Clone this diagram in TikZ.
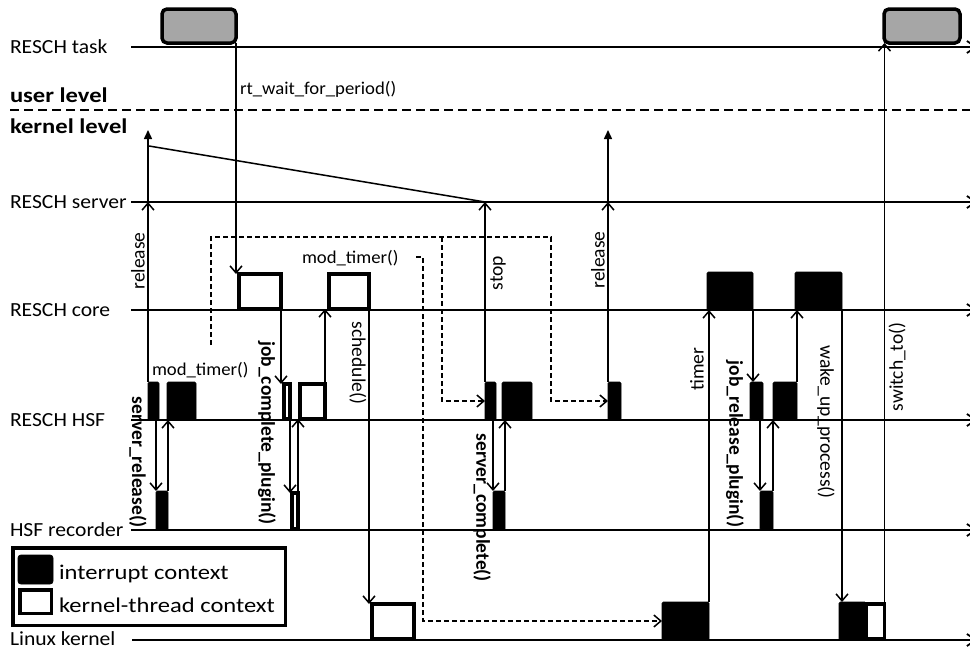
\documentclass[tikz,border=0pt]{standalone}
\usepackage{fontspec}
\setmainfont{Carlito}
\newfontfamily\tlfam{Carlito}[FakeStretch=1.08]
\newfontfamily\lbfam{Carlito}[FakeStretch=1.04]
\newfontfamily\hdfam{Carlito}[FakeStretch=1.17]
\newfontfamily\rtfam{Carlito}
\usetikzlibrary{arrows.meta}
\tikzset{
  tlfont/.style={font=\tlfam\fontsize{20}{24}\selectfont, inner sep=0, outer sep=0},
  lbl/.style={font=\lbfam\fontsize{18}{22}\selectfont, inner sep=0, outer sep=0},
  hd/.style={font=\hdfam\bfseries\fontsize{21}{25}\selectfont, inner sep=0, outer sep=0},
  leglbl/.style={font=\hdfam\fontsize{21}{25}\selectfont, inner sep=0, outer sep=0},
  rlbl/.style={font=\rtfam\fontsize{19.5}{23}\selectfont, inner sep=0, outer sep=0},
  rblbl/.style={font=\rtfam\bfseries\fontsize{19.5}{23}\selectfont, inner sep=0, outer sep=0},
  tline/.style={line width=1.8pt, -{Straight Barb[length=9pt,width=12pt]}},
  udash/.style={line width=2pt, dash pattern=on 9pt off 5pt},
  arr/.style={line width=1.5pt, -{Straight Barb[length=7pt,width=12pt]}},
  farr/.style={line width=1.5pt, -{Triangle[length=9pt,width=8pt]}},
  darr/.style={line width=1.5pt, dash pattern=on 5pt off 3pt, -{Straight Barb[length=7pt,width=12pt]}},
  plain/.style={line width=1.5pt},
  wbox/.style={draw, line width=3.5pt, fill=white, inner sep=0, outer sep=0, anchor=north west},
  bbox/.style={draw, fill=black, line width=0.8pt, rounded corners=1.5pt, inner sep=0, outer sep=0, anchor=north west},
  tbox/.style={draw, line width=3.5pt, fill=black!35, rounded corners=5pt, inner sep=0, outer sep=0, anchor=north west},
}
\begin{document}
\begin{tikzpicture}[x=1pt,y=-1pt]
\useasboundingbox (0,0) rectangle (970,653);
\clip (0,0) rectangle (970,653);

% timelines
\coordinate (Ltask) at (131,47);
\coordinate (Lsrv) at (131,202);
\coordinate (Lcore) at (131,310);
\coordinate (Lhsf) at (131,420);
\coordinate (Lrec) at (131,530);
\coordinate (Llnx) at (132,640);
\coordinate (Rend) at (977.5,0);
\coordinate (Uend) at (970,0);
\coordinate (Udash) at (10,110);
\coordinate (Topy) at (0,130);
\foreach \l in {Ltask,Lsrv,Lcore,Lhsf,Lrec,Llnx} \draw[tline] (\l) -- (\l -| Rend);
\draw[udash] (Udash) -- (Udash -| Uend);

% timeline labels
\node[tlfont, anchor=base west] (nTask) at (10,53.5) {RESCH task};
\node[tlfont, anchor=base west] (nSrv) at (10,208.5) {RESCH server};
\node[tlfont, anchor=base west] (nCore) at (10,316.5) {RESCH core};
\node[tlfont, anchor=base west] (nHsf) at (10,426.5) {RESCH HSF};
\node[tlfont, anchor=base west] (nRec) at (10,536.5) {HSF recorder};
\node[tlfont, anchor=base west] (nLnx) at (10,645.5) {Linux kernel};
\node[hd, anchor=base west] (nUser) at (10,102) {user level};
\node[hd, anchor=base west] (nKern) at (10,133) {kernel level};

% task boxes
\node[tbox, minimum width=74pt, minimum height=34pt] (t1) at (162,9) {};
\node[tbox, minimum width=76pt, minimum height=34pt] (t2) at (884,9) {};

% RESCH core boxes
\node[wbox, minimum width=42pt, minimum height=35pt] (c1) at (239,274) {};
\node[wbox, minimum width=40pt, minimum height=35pt] (c2) at (329,274) {};
\node[bbox, minimum width=46pt, minimum height=38pt] (c3) at (707,272) {};
\node[bbox, minimum width=47pt, minimum height=38pt] (c4) at (795,272) {};

% RESCH HSF boxes
\node[bbox, minimum width=11pt, minimum height=38pt] (h1) at (148,382) {};
\node[bbox, minimum width=29pt, minimum height=38pt] (h2) at (167,382) {};
\node[wbox, minimum width=6pt, minimum height=35pt] (h3) at (284,384) {};
\node[wbox, minimum width=25pt, minimum height=35pt] (h4) at (300,384) {};
\node[bbox, minimum width=11pt, minimum height=38pt] (h5) at (485,382) {};
\node[bbox, minimum width=30pt, minimum height=38pt] (h6) at (502,382) {};
\node[bbox, minimum width=13pt, minimum height=38pt] (h7) at (608,382) {};
\node[bbox, minimum width=13pt, minimum height=38pt] (h8) at (750,382) {};
\node[bbox, minimum width=24pt, minimum height=38pt] (h9) at (773,382) {};

% HSF recorder boxes
\node[bbox, minimum width=12pt, minimum height=39pt] (r1) at (156,491) {};
\node[wbox, minimum width=6pt, minimum height=36pt] (r2) at (292,493) {};
\node[bbox, minimum width=12pt, minimum height=39pt] (r3) at (493,491) {};
\node[bbox, minimum width=13pt, minimum height=39pt] (r4) at (760,491) {};

% Linux kernel boxes
\node[wbox, minimum width=42pt, minimum height=35pt] (k1) at (372,604) {};
\node[bbox, minimum width=47pt, minimum height=38pt] (k2) at (662,602) {};
\node[bbox, minimum width=27pt, minimum height=38pt] (k3b) at (839,602) {};
\node[wbox, minimum width=18pt, minimum height=35pt] (k3w) at (866.5,604) {};

% release / stop arrows to the server
\draw[arr] (h1.north west) -- (h1.north west |- Lsrv);
\draw[farr] (h1.north west |- Lsrv) -- (h1.north west |- Topy);
\draw[arr] (h5.north west) -- (h5.north west |- Lsrv);
\draw[arr] (h7.north west) -- (h7.north west |- Lsrv);
\draw[farr] (h7.north west |- Lsrv) -- (h7.north west |- Topy);
\coordinate (S1) at (149,146);
\draw[plain] (S1) -- (h5.north west |- Lsrv);

% task <-> core
\draw[arr] (t1.south east) -- (t1.south east |- c1.north);
\draw[arr] (k3w.north east) -- (k3w.north east |- t2.south);

% core <-> HSF <-> kernel
\draw[arr] (c1.south east) -- (c1.south east |- h3.north);
\draw[arr] (h4.north east) -- (h4.north east |- c2.south);
\draw[arr] (c2.south east) -- (c2.south east |- k1.north);
\draw[arr] (k2.north east) -- (k2.north east |- c3.south);
\draw[arr] (c3.south east) -- (c3.south east |- h8.north);
\draw[arr] (h9.north east) -- (h9.north east |- c4.south);
\draw[arr] (c4.south east) -- (c4.south east |- k3b.north);

% HSF <-> recorder
\draw[arr] (r1.north west |- h1.south) -- (r1.north west);
\draw[arr] (r1.north east) -- (r1.north east |- h2.south);
\draw[arr] (h3.south east) -- (h3.south east |- r2.north);
\draw[arr] (r2.north east) -- (r2.north east |- h4.south);
\draw[arr] (r3.north west |- h5.south) -- (r3.north west);
\draw[arr] (r3.north east) -- (r3.north east |- h6.south);
\draw[arr] (r4.north west |- h8.south) -- (r4.north west);
\draw[arr] (r4.north east) -- (r4.north east |- h9.south);

% dashed timer paths
\coordinate (D1) at (211,345);
\coordinate (D2) at (551,237);
\coordinate (D3) at (442,237);
\coordinate (D4) at (416,257);
\coordinate (D5) at (423,257);
\draw[darr] (D1) |- (D2) |- (h7.west);
\draw[darr] (D3) |- (h5.west);
\draw[darr] (D4) -- (D5) |- (k2.west);

% horizontal labels
\node[lbl, anchor=base west] (lRt) at (240,94) {rt\_wait\_for\_period()};
\node[lbl, anchor=base west] (lMod1) at (152,375) {mod\_timer()};
\node[lbl, anchor=base west] (lMod2) at (302,263) {mod\_timer()};

% rotated labels
\node[rlbl, rotate=90] (lRel1) at (138,261) {release};
\node[rblbl, rotate=-90] (lSrel) at (138,462) {server\_release()};
\node[rblbl, rotate=-90] (lJcp) at (267,433) {job\_complete\_plugin()};
\node[rlbl, rotate=-90] (lSch) at (358,363) {schedule()};
\node[rlbl, rotate=90] (lStop) at (498,273) {stop};
\node[rlbl, rotate=90] (lRel2) at (598,260) {release};
\node[rblbl, rotate=-90] (lScom) at (482,508) {server\_complete()};
\node[rlbl, rotate=90] (lTim) at (697,369) {timer};
\node[rblbl, rotate=-90] (lJrp) at (735,444) {job\_release\_plugin()};
\node[rlbl, rotate=-90] (lWake) at (826,422) {wake\_up\_process()};
\node[rlbl, rotate=90] (lSw) at (897,367) {switch\_to()};

% legend
\node[draw, line width=3.5pt, fill=white, inner sep=0, outer sep=0, anchor=north west, minimum width=272.5pt, minimum height=77.5pt] (leg) at (12.75,547.75) {};
\node[bbox, rounded corners=3pt, minimum width=35pt, minimum height=29pt] (legB) at (18,555) {};
\node[wbox, minimum width=31.5pt, minimum height=23.5pt] (legW) at (19.75,589.75) {};
\node[leglbl, anchor=base west] (legT1) at (59,579) {interrupt context};
\node[leglbl, anchor=base west] (legT2) at (59,612) {kernel-thread context};
\end{tikzpicture}
\end{document}
